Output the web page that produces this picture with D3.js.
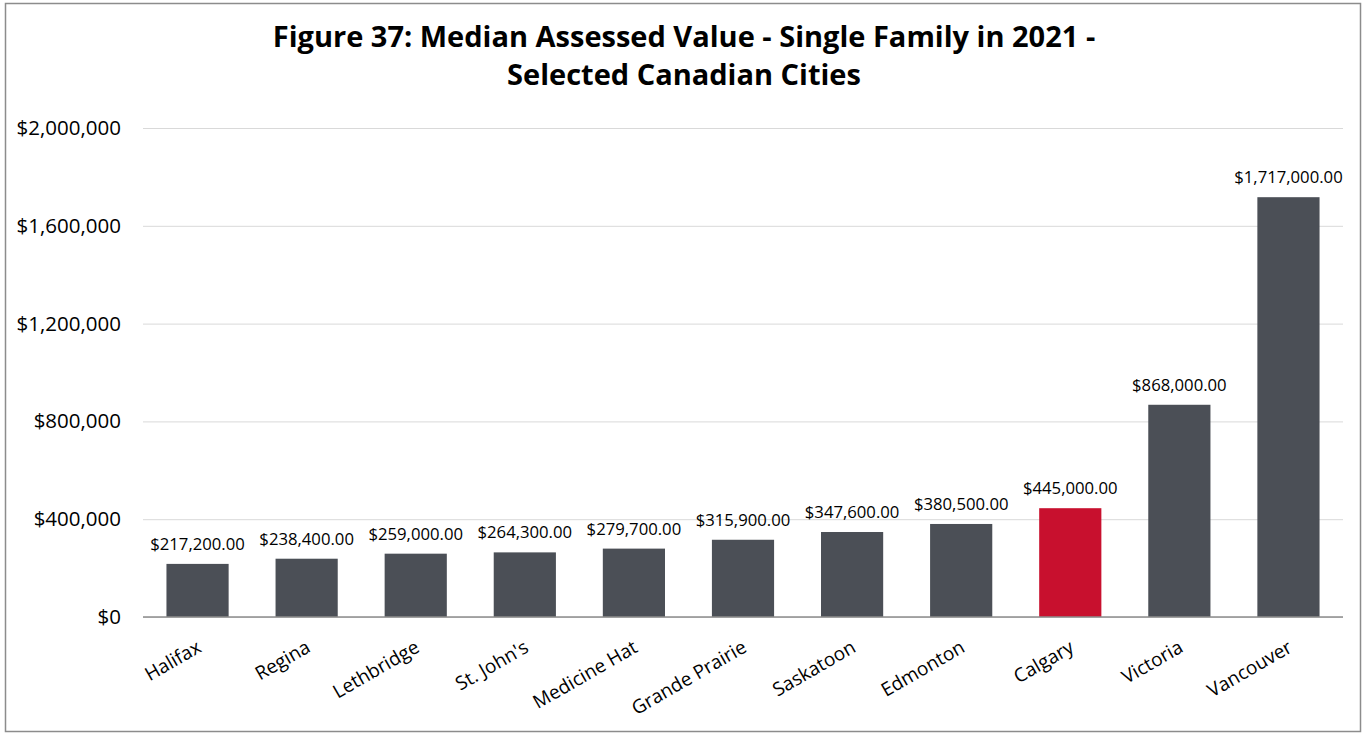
<!DOCTYPE html>
<html>
<head>
<meta charset="utf-8">
<script src="https://cdn.jsdelivr.net/npm/d3@7"></script>
<style>
  html, body { margin: 0; padding: 0; background: #fff; }
  svg { display: block; font-family: "Open Sans", "Noto Sans", sans-serif; }
</style>
</head>
<body>
<svg id="chart" width="1366" height="735"></svg>
<script>
// Median assessed value of single family homes, 2021
const cities = ["Halifax", "Regina", "Lethbridge", "St. John's", "Medicine Hat",
  "Grande Prairie", "Saskatoon", "Edmonton", "Calgary", "Victoria", "Vancouver"];
const values = [217200, 238400, 259000, 264300, 279700, 315900, 347600, 380500,
  445000, 868000, 1717000];
const yTicks = [0, 400000, 800000, 1200000, 1600000, 2000000];
const highlightCity = "Calgary";
const titleLines = ["Figure 37: Median Assessed Value - Single Family in 2021 -",
  "Selected Canadian Cities"];

const svg = d3.select("#chart");
const W = 1366, H = 735;
const plot = { left: 143, right: 1343, top: 128, bottom: 617 };

// outer frame
svg.append("rect")
  .attr("x", 5.5).attr("y", 3.5)
  .attr("width", W - 11).attr("height", H - 7)
  .attr("fill", "#fff").attr("stroke", "#8c8c8c").attr("stroke-width", 1.5);

// title
svg.append("g").selectAll("text").data(titleLines).join("text")
  .attr("x", 684).attr("y", (d, i) => 47 + i * 38)
  .attr("text-anchor", "middle")
  .attr("font-size", 29).attr("font-weight", 700).attr("fill", "#000")
  .text(d => d);

const x = d3.scaleBand().domain(cities).range([plot.left, plot.right]).paddingInner(0.43).paddingOuter(0.215);
const y = d3.scaleLinear().domain([0, 2000000]).range([plot.bottom, plot.top]);

// gridlines + y labels
const yAxis = d3.axisLeft(y).tickValues(yTicks)
  .tickSize(-(plot.right - plot.left)).tickPadding(22)
  .tickFormat(d => "$" + d3.format(",")(d));
const gy = svg.append("g").attr("transform", `translate(${plot.left},0)`).call(yAxis);
gy.select(".domain").remove();
gy.selectAll(".tick line").attr("stroke", "#d9d9d9").attr("stroke-width", 1);
gy.selectAll(".tick text").attr("font-size", 20.5).attr("fill", "#000")
  .attr("font-family", "'Open Sans', sans-serif");

// bars
svg.append("g").selectAll("rect").data(cities).join("rect")
  .attr("x", d => x(d)).attr("width", x.bandwidth())
  .attr("y", (d, i) => y(values[i]))
  .attr("height", (d, i) => y(0) - y(values[i]))
  .attr("fill", d => d === highlightCity ? "#c8102e" : "#4b4f56");

// value labels
svg.append("g").selectAll("text").data(cities).join("text")
  .attr("x", d => x(d) + x.bandwidth() / 2)
  .attr("y", (d, i) => y(values[i]) - 14)
  .attr("text-anchor", "middle").attr("font-size", 16.7).attr("fill", "#000")
  .text((d, i) => "$" + d3.format(",.2f")(values[i]));

// x axis baseline + rotated category labels
const xAxis = d3.axisBottom(x).tickSize(0).tickPadding(0);
const gx = svg.append("g").attr("transform", `translate(0,${plot.bottom})`).call(xAxis);
gx.select(".domain").attr("stroke", "#8c8c8c").attr("stroke-width", 1.5)
  .attr("d", `M${plot.left},0H${plot.right}`);
gx.selectAll(".tick text")
  .attr("font-size", 19).attr("fill", "#000")
  .attr("font-family", "'Open Sans', sans-serif")
  .attr("text-anchor", "end")
  .attr("dy", null).attr("y", null)
  .attr("transform", "translate(5,34) rotate(-30)");
</script>
</body>
</html>
